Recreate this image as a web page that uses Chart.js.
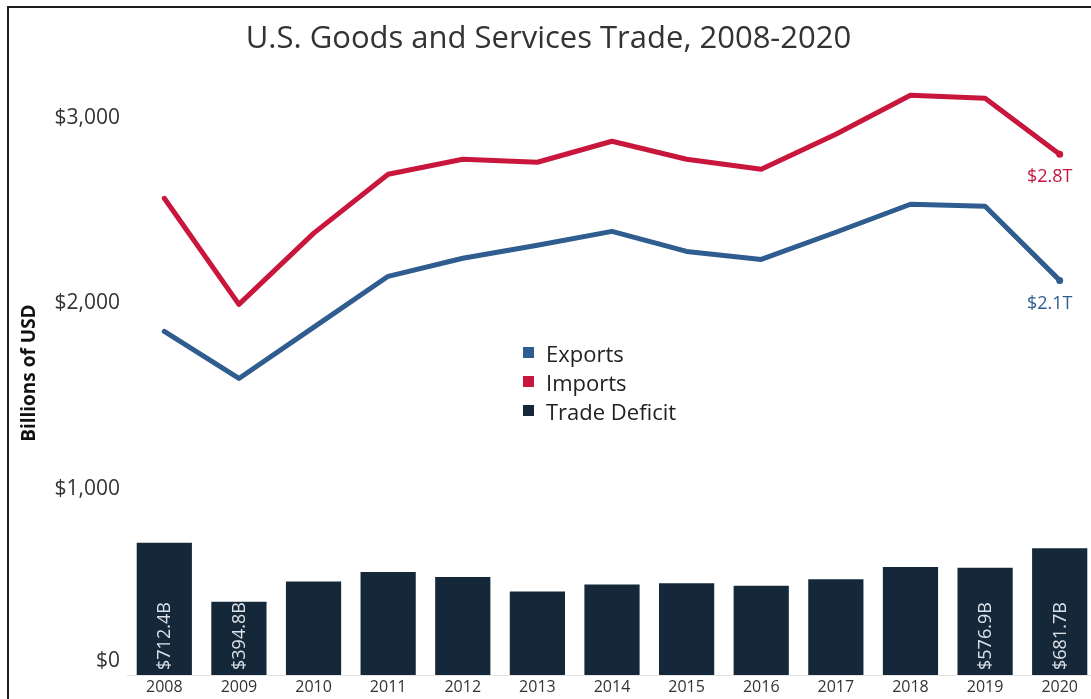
<!DOCTYPE html>
<html>
<head>
<meta charset="utf-8">
<title>U.S. Goods and Services Trade, 2008-2020</title>
<script src="https://cdn.jsdelivr.net/npm/chart.js@4.4.1/dist/chart.umd.min.js"></script>
<style>
  html, body { margin: 0; padding: 0; background: #fff; overflow: hidden; }
  #wrap { position: relative; width: 1091px; height: 699px; overflow: hidden; }
  #tradeChart { position: absolute; left: 0; top: 0; }
  #frame {
    position: absolute; left: 7px; top: 6px; width: 1200px; height: 800px;
    border-top: 2px solid #1e1e1e; border-left: 2px solid #1e1e1e;
    pointer-events: none;
  }
  #legend {
    position: absolute; left: 523px; top: 338px;
    font-family: 'Open Sans', sans-serif; font-size: 22px; color: #222;
  }
  #legend .item { display: flex; align-items: center; height: 29px; }
  #legend .swatch { width: 11px; height: 11px; margin-right: 12px; }
</style>
</head>
<body>
<div id="wrap">
  <canvas id="tradeChart" width="1112" height="699"></canvas>
  <div id="frame"></div>
  <div id="legend"></div>
</div>
<script>
// trade totals in billions of USD
const years = ['2008', '2009', '2010', '2011', '2012', '2013', '2014', '2015', '2016', '2017', '2018', '2019', '2020'];
const exportsBn = [1849, 1596, 1871, 2146, 2243, 2313, 2388, 2280, 2237, 2383, 2534, 2523, 2124];
const importsBn = [2566, 1995, 2377, 2695, 2776, 2760, 2873, 2776, 2722, 2911, 3121, 3105, 2803];
const deficitBn = [712.4, 394.8, 503, 554, 528, 449, 487, 494, 481, 516, 581, 576.9, 681.7];
const labelledYears = ['2008', '2009', '2019', '2020'];
const yTicks = [0, 1000, 2000, 3000];

const BLUE = '#2f5d8f';
const RED = '#c8163c';
const NAVY = '#15283a';
const FONT = 'Open Sans';

function money(v) {
  return '$' + v.toLocaleString('en-US');
}

// only the final point gets a dot
function endDot(arr) {
  return arr.map((v, i) => (i === arr.length - 1 ? 3.5 : 0));
}

// value labels: rotated text in selected bars, totals under the line ends,
// and the $0 tick nudged up so it clears the year labels
const markLabels = {
  id: 'markLabels',
  afterDatasetsDraw(chart) {
    const ctx = chart.ctx;
    ctx.save();

    const bars = chart.getDatasetMeta(2);
    ctx.font = '18px "' + FONT + '"';
    ctx.fillStyle = '#dce2e8';
    ctx.textAlign = 'left';
    ctx.textBaseline = 'middle';
    bars.data.forEach((bar, i) => {
      if (!labelledYears.includes(years[i])) return;
      ctx.save();
      ctx.translate(bar.x + 1, bar.base - 5);
      ctx.rotate(-Math.PI / 2);
      ctx.fillText('$' + deficitBn[i].toFixed(1) + 'B', 0, 0);
      ctx.restore();
    });

    ctx.textAlign = 'center';
    [0, 1].forEach(di => {
      const ds = chart.data.datasets[di];
      const pts = chart.getDatasetMeta(di).data;
      const last = pts[pts.length - 1];
      const v = ds.data[ds.data.length - 1];
      ctx.fillStyle = ds.borderColor;
      ctx.fillText('$' + (v / 1000).toFixed(1) + 'T', last.x - 10, last.y + 23);
    });

    const y = chart.scales.y;
    ctx.font = '21px "' + FONT + '"';
    ctx.fillStyle = '#333';
    ctx.textAlign = 'right';
    ctx.fillText(money(0), y.right - 7, y.getPixelForValue(0) - 14);

    ctx.restore();
  }
};

const chart = new Chart(document.getElementById('tradeChart'), {
  data: {
    labels: years,
    datasets: [
      {
        type: 'line', label: 'Exports', data: exportsBn,
        borderColor: BLUE, backgroundColor: BLUE, borderWidth: 5,
        borderCapStyle: 'round', borderJoinStyle: 'round',
        pointRadius: endDot(exportsBn), pointBackgroundColor: BLUE, pointBorderWidth: 0,
        tension: 0
      },
      {
        type: 'line', label: 'Imports', data: importsBn,
        borderColor: RED, backgroundColor: RED, borderWidth: 5,
        borderCapStyle: 'round', borderJoinStyle: 'round',
        pointRadius: endDot(importsBn), pointBackgroundColor: RED, pointBorderWidth: 0,
        tension: 0
      },
      {
        type: 'bar', label: 'Trade Deficit', data: deficitBn,
        backgroundColor: NAVY, borderWidth: 0,
        barPercentage: 0.74, categoryPercentage: 1
      }
    ]
  },
  options: {
    responsive: false,
    animation: false,
    layout: { padding: { left: 0, right: 15, top: 0, bottom: 0 } },
    plugins: {
      legend: { display: false },
      tooltip: { enabled: false },
      title: {
        display: true,
        text: 'U.S. Goods and Services Trade, 2008-2020',
        color: '#333',
        font: { family: FONT, size: 31, weight: 'normal' },
        padding: { top: 21, bottom: 13 }
      }
    },
    scales: {
      x: {
        grid: { display: false, drawTicks: false },
        border: { display: true, color: '#e4e4e4' },
        afterFit: s => { s.height = 24; },
        ticks: {
          padding: 3, autoSkip: false, maxRotation: 0,
          color: '#333', font: { family: FONT, size: 16 }
        }
      },
      y: {
        min: 0,
        max: 3250,
        afterBuildTicks: s => { s.ticks = yTicks.map(v => ({ value: v })); },
        afterFit: s => { s.width = 127; },
        grid: { display: false, drawTicks: false },
        border: { display: false },
        ticks: {
          padding: 7, color: '#333', font: { family: FONT, size: 21 },
          callback: v => (v === 0 ? '' : money(v))
        },
        title: {
          display: true, text: 'Billions of USD', color: '#111',
          font: { family: FONT, size: 19, weight: 'bold' },
          padding: { top: 18, bottom: 0 }
        }
      }
    }
  },
  plugins: [markLabels]
});

// legend stacked in the middle of the plot
const legendEl = document.getElementById('legend');
chart.data.datasets.forEach(ds => {
  const item = document.createElement('div');
  item.className = 'item';
  const sw = document.createElement('span');
  sw.className = 'swatch';
  sw.style.background = ds.type === 'bar' ? ds.backgroundColor : ds.borderColor;
  const txt = document.createElement('span');
  txt.textContent = ds.label;
  item.appendChild(sw);
  item.appendChild(txt);
  legendEl.appendChild(item);
});
</script>
</body>
</html>
